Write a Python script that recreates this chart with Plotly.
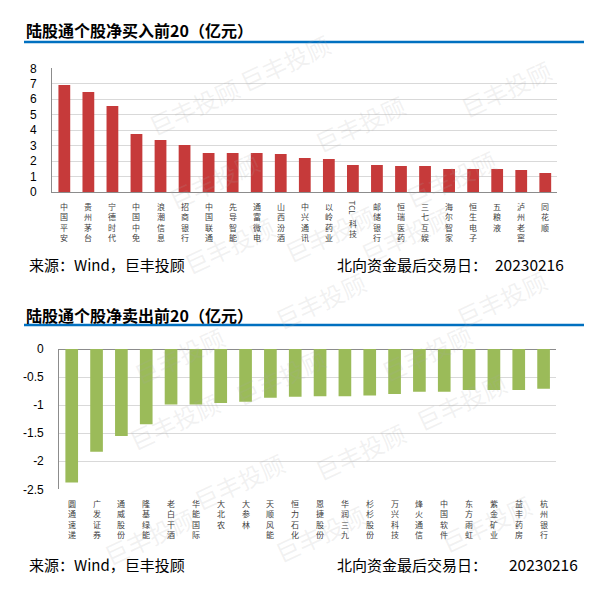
import plotly.graph_objects as go

buy_names = ["中国平安", "贵州茅台", "宁德时代", "中国中免", "浪潮信息", "招商银行", "中国联通",
             "先导智能", "通富微电", "山西汾酒", "中兴通讯", "以岭药业", "TCL科技", "邮储银行",
             "恒瑞医药", "三七互娱", "海尔智家", "恒生电子", "五粮液", "泸州老窖", "同花顺"]
buy_values = [6.92, 6.47, 5.56, 3.75, 3.36, 3.04, 2.52, 2.52, 2.52, 2.46, 2.20, 2.13, 1.75,
              1.75, 1.68, 1.68, 1.49, 1.49, 1.49, 1.42, 1.23]

sell_names = ["圆通速递", "广发证券", "通威股份", "隆基绿能", "老白干酒", "华能国际", "大北农",
              "大参林", "天顺风能", "恒力石化", "恩捷股份", "华润三九", "杉杉股份", "万兴科技",
              "烽火通信", "中国软件", "东方雨虹", "紫金矿业", "益丰药房", "杭州银行"]
sell_values = [-2.38, -1.83, -1.55, -1.34, -0.99, -0.99, -0.96, -0.94, -0.87, -0.85, -0.84,
               -0.84, -0.83, -0.80, -0.76, -0.76, -0.73, -0.73, -0.73, -0.71]

buy_tickvals = [0, 1, 2, 3, 4, 5, 6, 7, 8]
buy_ticktext = ["0", "1", "2", "3", "4", "5", "6", "7", "8"]
sell_tickvals = [0, -0.5, -1, -1.5, -2, -2.5]
sell_ticktext = ["0", "-0.5", "-1", "-1.5", "-2", "-2.5"]

title_buy = "陆股通个股净买入前20（亿元）"
title_sell = "陆股通个股净卖出前20（亿元）"
source_text = "来源：Wind，巨丰投顾"
date_label = "北向资金最后交易日："
date_value = "20230216"

# the page places the figure 8 px in from the top-left corner (body margin)
OFF = 8
W, H = 616 - 2 * OFF, 604 - 2 * OFF
def py(p):
    return 1 - (p - OFF) / H
def px(p):
    return (p - OFF) / W

CJK = "Noto Sans CJK SC"
NUM = "Liberation Sans"

fig = go.Figure()
fig.add_trace(go.Bar(x=buy_names, y=buy_values, marker=dict(color="#C63A3A", line=dict(width=0)),
                     xaxis="x", yaxis="y", width=0.49))
fig.add_trace(go.Bar(x=sell_names, y=sell_values, marker=dict(color="#9BBB59", line=dict(width=0)),
                     xaxis="x2", yaxis="y2", width=0.51))

annotations = []
shapes = []

# watermarks
wm_pos = [(285, 24), (560, 50), (140, 68), (360, 85), (160, 142), (505, 140), (330, 195),
          (175, 245), (460, 235), (320, 300), (555, 298), (125, 355), (480, 352), (280, 415),
          (120, 460), (515, 440), (360, 490), (185, 520), (320, 572), (540, 562), (95, 575)]
for (x, y) in wm_pos:
    annotations.append(dict(x=px(x), y=py(y), xref="paper", yref="paper", text="巨丰投顾",
                            showarrow=False, textangle=-25,
                            font=dict(family=CJK, size=24, color="rgba(170,170,170,0.16)")))

# titles and blue rules
for ttl, ty, ly in [(title_buy, 30, 42), (title_sell, 315, 325)]:
    annotations.append(dict(x=px(24), y=py(ty), xref="paper", yref="paper", text="<b>" + ttl + "</b>",
                            showarrow=False, xanchor="left", yanchor="middle",
                            font=dict(family=CJK, size=16, color="#000000")))
    shapes.append(dict(type="line", xref="paper", yref="paper", x0=px(24), x1=px(584),
                       y0=py(ly), y1=py(ly), line=dict(color="#0070C0", width=2.5)))

# sources and dates
for sy, dx in [(264, 493), (564, 507)]:
    annotations.append(dict(x=px(27), y=py(sy), xref="paper", yref="paper", text=source_text,
                            showarrow=False, xanchor="left", yanchor="middle",
                            font=dict(family=CJK, size=15, color="#000000")))
    annotations.append(dict(x=px(335), y=py(sy), xref="paper", yref="paper", text=date_label,
                            showarrow=False, xanchor="left", yanchor="middle",
                            font=dict(family=CJK, size=15, color="#000000")))
    annotations.append(dict(x=px(dx), y=py(sy), xref="paper", yref="paper", text=date_value,
                            showarrow=False, xanchor="left", yanchor="middle",
                            font=dict(family=CJK, size=15.5, color="#000000")))

# vertical category labels (one glyph per line)
lab_font = dict(family=CJK, size=8, color="#404040")
def add_labels(names, xref, top):
    for n in names:
        if n.startswith("TCL"):
            annotations.append(dict(x=n, y=py(top), xref=xref, yref="paper", text="TCL",
                                    showarrow=False, textangle=90, yanchor="top",
                                    font=lab_font, borderpad=0, borderwidth=0))
            annotations.append(dict(x=n, y=py(top + 17), xref=xref, yref="paper",
                                    text="<br>".join(list(n[3:])), showarrow=False, yanchor="top",
                                    font=lab_font, borderpad=0, borderwidth=0))
        else:
            annotations.append(dict(x=n, y=py(top), xref=xref, yref="paper",
                                    text="<br>".join(list(n)), showarrow=False, yanchor="top",
                                    font=lab_font, borderpad=0, borderwidth=0))

add_labels(buy_names, "x", 201)
add_labels(sell_names, "x2", 498)

tickfont = dict(family=NUM, size=12, color="#000000")
fig.update_layout(
    width=W, height=H, margin=dict(l=0, r=0, t=0, b=0, autoexpand=False),
    paper_bgcolor="white", plot_bgcolor="white", showlegend=False,
    xaxis=dict(domain=[px(52.3), px(557.3)], anchor="y", range=[-0.5, 20.5], showticklabels=False,
               showgrid=False, showline=True, linecolor="#8C8C8C", linewidth=1.2, ticks="", zeroline=False),
    yaxis=dict(domain=[py(192), py(68.3)], anchor="x", range=[0, 8], tickvals=buy_tickvals,
               ticktext=buy_ticktext, showgrid=True,
               gridcolor="#D9D9D9", gridwidth=1, showline=True, linecolor="#8C8C8C", linewidth=1.2,
               zeroline=False, tickfont=tickfont, ticklabelstandoff=12, automargin=False),
    xaxis2=dict(domain=[px(59.3), px(556)], anchor="y2", range=[-0.5, 19.5], showticklabels=False,
                showgrid=False, showline=False, ticks="", zeroline=False),
    yaxis2=dict(domain=[py(489.3), py(349)], anchor="x2", range=[-2.5, 0], tickvals=sell_tickvals,
                ticktext=sell_ticktext, showgrid=True,
                gridcolor="#D9D9D9", gridwidth=1, showline=True, linecolor="#8C8C8C", linewidth=1.2,
                zeroline=True, zerolinecolor="#8C8C8C", zerolinewidth=1.2,
                tickfont=tickfont, ticklabelstandoff=12, automargin=False),
    annotations=annotations, shapes=shapes,
)

fig.write_html("out.html")
